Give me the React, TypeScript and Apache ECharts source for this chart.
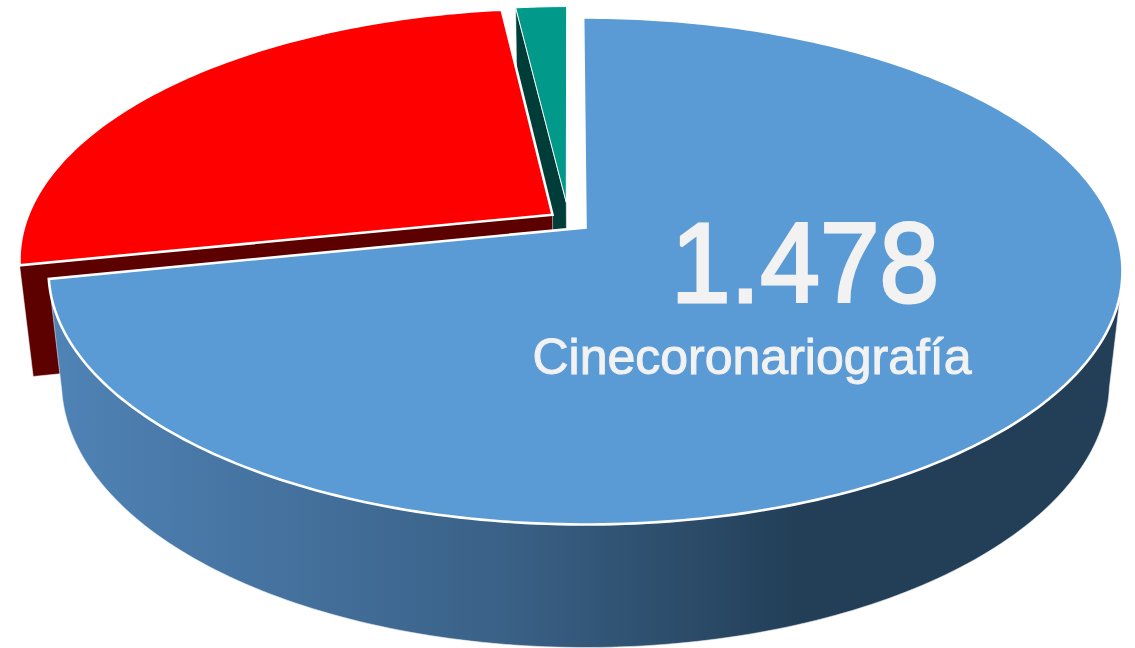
import React, { useEffect, useRef } from "react";
import * as echarts from "echarts";

// Slices in counter-clockwise order from the top of the disc
const categories = ["Otros", "Angioplastia", "Cinecoronariografía"];
const seriesValues = [39, 540, 1478];
const valueLabels = ["", "", "1.478"];

// Colours and exploded offsets per slice (disc coordinates)
const topColors = ["#00998A", "#FF0000", "#5B9BD5"];
const faceColors = ["#003D38", "#5C0000", "#4E80B2"];
const explodeU = [-0.037, -0.0629, 0];
const explodeV = [-0.1038, -0.0523, 0];
const radiusScale = [0.958, 1, 1];

// Perspective camera for the disc
const CX = 585.5, CY = 227.5, A = 529, B = 246, C = 112, K = 0.1716, M = 0.024;
const START_DEG = 359.7;
const WALL_TOP_DEG = 104;
const WALL_BOTTOM_DEG = 101;
const RAD = Math.PI / 180;

const project = (u: number, v: number, z: number): number[] => {
  const w = 1 - K * v + M * z;
  return [CX + (A * u) / w, CY + (B * v + C * z) / w];
};

const total = seriesValues.reduce((s, v) => s + v, 0);

function rim(i: number, fromDeg: number, toDeg: number, z: number): number[][] {
  const n = Math.max(2, Math.ceil(Math.abs(toDeg - fromDeg)));
  const pts: number[][] = [];
  for (let j = 0; j <= n; j++) {
    const t = (fromDeg + ((toDeg - fromDeg) * j) / n) * RAD;
    pts.push(
      project(
        radiusScale[i] * Math.sin(t) + explodeU[i],
        -radiusScale[i] * Math.cos(t) + explodeV[i],
        z
      )
    );
  }
  return pts;
}

function renderItem(params: any, api: any) {
  const i = params.dataIndex;
  let used = 0;
  for (let k = 0; k < i; k++) used += seriesValues[k];
  const value = api.value(0);
  const endDeg = START_DEG - (used / total) * 360; // clockwise end
  const startDeg = endDeg - (value / total) * 360; // clockwise start
  const apexTop = project(explodeU[i], explodeV[i], 0);
  const apexBot = project(explodeU[i], explodeV[i], 1);
  const children: any[] = [];

  if (i === 2) {
    // the big slice: outer wall, from the right silhouette round to its left edge
    children.push({
      type: "polygon",
      shape: {
        points: [
          ...rim(i, WALL_TOP_DEG, endDeg, 0),
          ...rim(i, endDeg, WALL_BOTTOM_DEG, 1),
        ],
      },
      style: {
        fill: new echarts.graphic.LinearGradient(
          62, 0, 1110, 0,
          [
            { offset: 0, color: "#4F82B5" },
            { offset: 0.42, color: "#3A6187" },
            { offset: 0.7, color: "#233F58" },
            { offset: 1, color: "#233F58" },
          ],
          true
        ),
        stroke: "#E6ECF2",
        lineWidth: 0.6,
      },
    });
  } else {
    // the radial face that looks towards the viewer
    const edgeTop = rim(i, startDeg, startDeg, 0)[0];
    const edgeBot = rim(i, startDeg, startDeg, 1)[0];
    children.push({
      type: "polygon",
      shape: { points: [edgeTop, apexTop, apexBot, edgeBot] },
      style: { fill: faceColors[i], stroke: "#fff", lineWidth: 0.5 },
    });
  }

  children.push({
    type: "polygon",
    shape: { points: [apexTop, ...rim(i, startDeg, endDeg, 0)] },
    style: { fill: topColors[i], stroke: "#fff", lineWidth: i === 0 ? 1 : 2.6, lineJoin: "miter" },
  });

  if (valueLabels[i]) {
    children.push({
      type: "text",
      x: 805,
      y: 262,
      scaleX: 0.94,
      style: {
        text: valueLabels[i],
        x: 0,
        y: 0,
        fill: "#F2F2F2",
        fontFamily: "Liberation Sans",
        fontSize: 114,
        align: "center",
        verticalAlign: "middle",
        stroke: "#F2F2F2",
        lineWidth: 3,
      },
    });
    children.push({
      type: "text",
      style: {
        text: categories[i],
        x: 752,
        y: 357,
        fill: "#F2F2F2",
        fontFamily: "Liberation Sans",
        fontSize: 50,
        align: "center",
        verticalAlign: "middle",
        stroke: "#F2F2F2",
        lineWidth: 1,
      },
    });
  }
  return { type: "group", children };
}

export default function App() {
  const ref = useRef<HTMLDivElement>(null);
  useEffect(() => {
    document.body.style.margin = "0";
    const chart = echarts.init(ref.current!, undefined, { renderer: "svg" });
    chart.setOption({
      animation: false,
      backgroundColor: "#fff",
      series: [
        {
          type: "custom",
          coordinateSystem: "none",
          silent: true,
          clip: false,
          data: seriesValues.map((v, i) => ({ name: categories[i], value: [v] })),
          renderItem,
        },
      ],
    });
    return () => chart.dispose();
  }, []);
  return <div ref={ref} style={{ width: 1135, height: 648, overflow: "hidden" }} />;
}
